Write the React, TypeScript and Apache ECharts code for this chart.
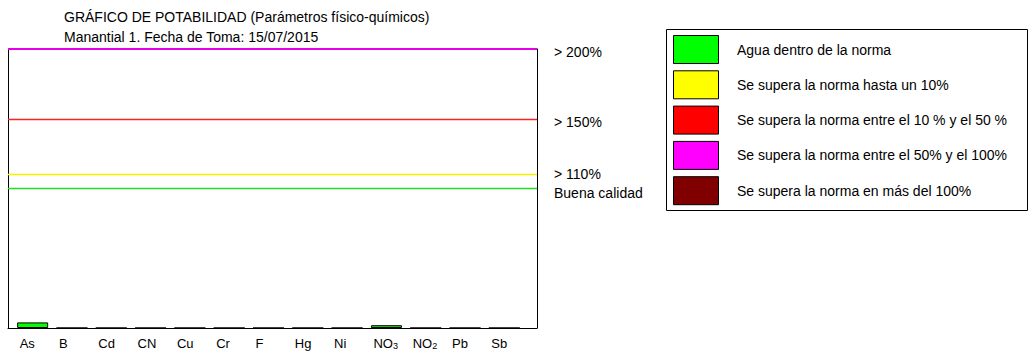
import React, { useEffect, useRef } from "react";
import * as echarts from "echarts";

const titleText = "GRÁFICO DE POTABILIDAD (Parámetros físico-químicos)";
const subtitleText = "Manantial 1. Fecha de Toma: 15/07/2015";

const categories = ["As", "B", "Cd", "CN", "Cu", "Cr", "F", "Hg", "Ni", "NO3", "NO2", "Pb", "Sb"];
const values = [4, 0, 0, 0, 0, 0, 0, 0, 0, 2, 0, 0, 0];

const thresholdValues = [200, 150, 110, 100];
const thresholdLabels = ["> 200%", "> 150%", "> 110%", "Buena calidad"];
const thresholdColors = ["#E600E6", "#FF2020", "#F2F200", "#22DD22"];

const legendNames = [
  "Agua dentro de la norma",
  "Se supera la norma hasta un 10%",
  "Se supera la norma entre el 10 % y el 50 %",
  "Se supera la norma entre el 50% y el 100%",
  "Se supera la norma en más del 100%",
];
const legendColors = ["#00FF00", "#FFFF00", "#FF0000", "#FF00FF", "#800000"];

const FONT = "'Liberation Sans', Arial, sans-serif";
const FS = 14;

function colorFor(v: number): string {
  if (v <= 100) return legendColors[0];
  if (v <= 110) return legendColors[1];
  if (v <= 150) return legendColors[2];
  if (v <= 200) return legendColors[3];
  return legendColors[4];
}

export default function App() {
  const ref = useRef<HTMLDivElement>(null);
  useEffect(() => {
    if (!ref.current) return;
    const chart = echarts.init(ref.current, null, { renderer: "svg" });
    const legendGraphics: any[] = [];
    legendGraphics.push({
      type: "rect",
      shape: { x: 666.5, y: 29.5, width: 361, height: 181 },
      style: { fill: "#fff", stroke: "#000", lineWidth: 1 },
    });
    legendNames.forEach((n, i) => {
      const y = 35.5 + i * 35.3;
      legendGraphics.push({
        type: "rect",
        shape: { x: 673.5, y, width: 45, height: 28 },
        style: { fill: legendColors[i], stroke: "#000", lineWidth: 1 },
      });
      legendGraphics.push({
        type: "text",
        x: 737,
        y: y + 14,
        style: {
          text: n,
          font: `${FS}px ${FONT}`,
          fill: "#000",
          verticalAlign: "middle",
          align: "left",
        },
      });
    });

    const labelOffsetY = [3, 3, -1, 4];

    const option: any = {
      animation: false,
      backgroundColor: "#fff",
      textStyle: { fontFamily: FONT },
      title: [
        {
          text: titleText,
          left: 64,
          top: 10,
          padding: 0,
          textStyle: { fontSize: FS, fontWeight: "normal", color: "#000", fontFamily: FONT },
        },
        {
          text: subtitleText,
          left: 64,
          top: 30,
          padding: 0,
          textStyle: { fontSize: FS, fontWeight: "normal", color: "#000", fontFamily: FONT },
        },
      ],
      grid: [
        { left: 8, top: 49, width: 529, height: 279 },
        { left: 13, top: 49, width: 511, height: 279 },
        { left: 0, top: 49, width: 511, height: 279 },
      ],
      xAxis: [
        {
          gridIndex: 0,
          type: "value",
          min: 0,
          max: 1,
          axisLine: { show: true, lineStyle: { color: "#000", width: 1 } },
          axisTick: { show: false },
          axisLabel: { show: false },
          splitLine: { show: false },
        },
        {
          gridIndex: 1,
          type: "category",
          data: categories,
          boundaryGap: true,
          axisLine: { show: false },
          axisTick: { show: false },
          axisLabel: { show: false },
        },
        {
          gridIndex: 2,
          type: "category",
          data: categories,
          boundaryGap: true,
          axisLine: { show: false },
          axisTick: { show: false },
          axisLabel: {
            show: true,
            interval: 0,
            align: "left",
            margin: 7,
            color: "#000",
            fontSize: 13,
            fontFamily: FONT,
            formatter: (v: string) =>
              /^NO\d$/.test(v) ? `{n|NO}{s|${v.slice(2)}}` : `{n|${v}}`,
            rich: {
              n: { fontSize: 13, fontFamily: FONT, color: "#000", lineHeight: 15, verticalAlign: "bottom" },
              s: { fontSize: 9, fontFamily: FONT, color: "#000", lineHeight: 15, verticalAlign: "bottom", padding: [4, 0, 0, 0] },
            },
          },
        },
      ],
      yAxis: [
        {
          gridIndex: 0,
          type: "value",
          min: 0,
          max: 200,
          axisLine: { show: true, lineStyle: { color: "#000", width: 1 } },
          axisTick: { show: false },
          axisLabel: { show: false },
          splitLine: { show: false },
        },
        {
          gridIndex: 0,
          type: "value",
          position: "right",
          min: 0,
          max: 200,
          axisLine: { show: true, lineStyle: { color: "#000", width: 1 } },
          axisTick: { show: false },
          axisLabel: { show: false },
          splitLine: { show: false },
        },
        {
          gridIndex: 1,
          type: "value",
          min: 0,
          max: 200,
          show: false,
        },
        {
          gridIndex: 2,
          type: "value",
          min: 0,
          max: 200,
          show: false,
        },
      ],
      series: [
        {
          type: "line",
          xAxisIndex: 0,
          yAxisIndex: 0,
          data: [],
          silent: true,
          markLine: {
            silent: true,
            symbol: ["none", "none"],
            data: thresholdValues.map((v, i) => ({
              yAxis: v,
              name: thresholdLabels[i],
              lineStyle: { color: thresholdColors[i], width: i === 0 ? 2 : 1.3, type: "solid", opacity: 1 },
              label: {
                show: true,
                position: "end",
                distance: 17,
                offset: [0, labelOffsetY[i]],
                formatter: thresholdLabels[i],
                color: "#000",
                fontSize: FS,
                fontFamily: FONT,
              },
            })),
          },
        },
        {
          type: "bar",
          xAxisIndex: 1,
          yAxisIndex: 2,
          data: values.map((v) => ({ value: v, itemStyle: { color: colorFor(v) } })),
          barWidth: 31,
          itemStyle: { borderColor: "#000", borderWidth: 1 },
          silent: true,
        },
      ],
      graphic: legendGraphics,
    };
    chart.setOption(option);
    return () => chart.dispose();
  }, []);
  return (
    <div
      ref={ref}
      style={{ position: "fixed", left: 0, top: 0, width: 1030, height: 354, background: "#fff" }}
    />
  );
}
